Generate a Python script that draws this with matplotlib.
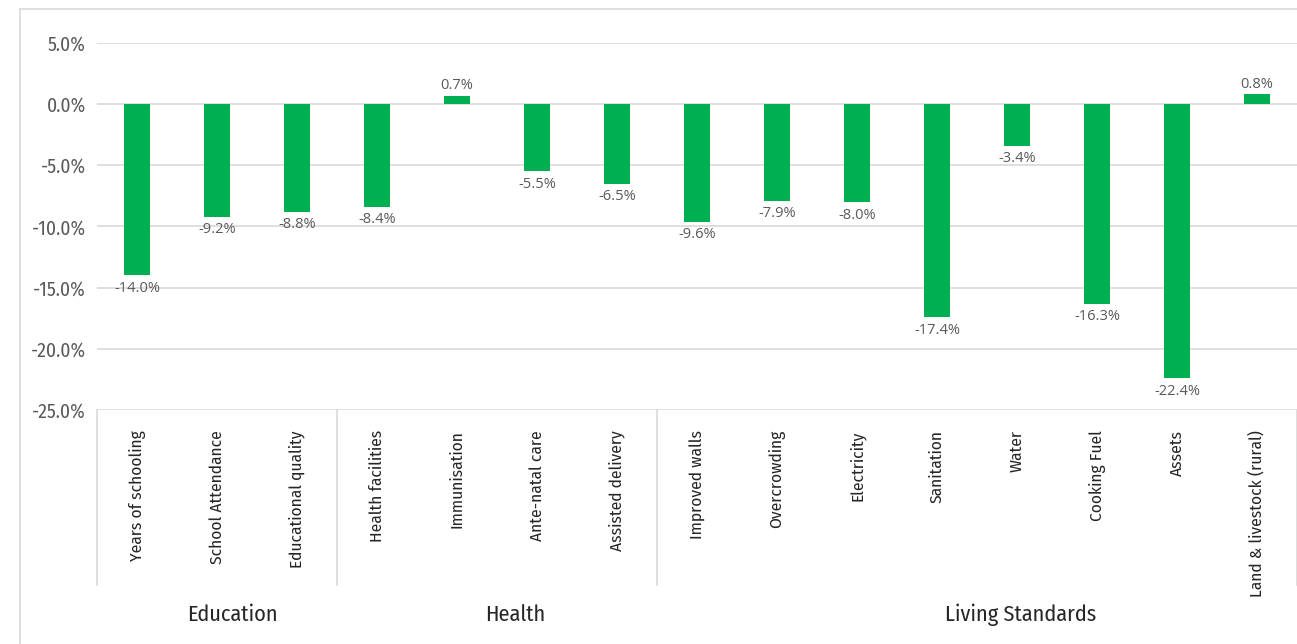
import numpy as np
import matplotlib
matplotlib.use("Agg")
import matplotlib.pyplot as plt
from matplotlib.lines import Line2D

categories = ["Years of schooling", "School Attendance", "Educational quality",
              "Health facilities", "Immunisation", "Ante-natal care", "Assisted delivery",
              "Improved walls", "Overcrowding", "Electricity", "Sanitation", "Water",
              "Cooking Fuel", "Assets", "Land & livestock (rural)"]
values = [-14.0, -9.2, -8.8, -8.4, 0.7, -5.5, -6.5, -9.6, -7.9, -8.0, -17.4, -3.4, -16.3, -22.4, 0.8]
groups = ["Education", "Health", "Living Standards"]
group_sizes = [3, 4, 8]
yticks = [5, 0, -5, -10, -15, -20, -25]

narrow = ["Fira Sans Condensed", "DejaVu Sans"]
label_font = ["Open Sans", "DejaVu Sans"]
green = "#00B050"
grid_c = "#D9D9D9"

W, H = 1297, 644
fig = plt.figure(figsize=(W / 100, H / 100), dpi=100)

# outer chart frame (left and top edges visible)
fig.add_artist(Line2D([20 / W, 20 / W], [0, 1 - 9 / H], color=grid_c, lw=1.2))
fig.add_artist(Line2D([20 / W, 1], [1 - 9 / H, 1 - 9 / H], color=grid_c, lw=1.2))

left, right = 97 / W, 1.0
top, bottom = 1 - 43 / H, 1 - 410 / H
ax = fig.add_axes([left, bottom, right - left, top - bottom])

x = np.arange(len(categories))
ax.bar(x, values, width=0.33, color=green, zorder=3)

for xi, v in zip(x, values):
    if v >= 0:
        ax.annotate(f"{v:.1f}%", (xi, v), xytext=(0, 2), textcoords="offset points",
                    ha="center", va="bottom", fontsize=10.5, color="#595959", family=label_font)
    else:
        ax.annotate(f"{v:.1f}%", (xi, v), xytext=(0, -4), textcoords="offset points",
                    ha="center", va="top", fontsize=10.5, color="#595959", family=label_font)

ax.set_xlim(-0.5, len(categories) - 0.5)
ax.set_ylim(-25, 5)
ax.set_yticks(yticks)
ax.set_yticklabels([f"{t:.1f}%" for t in yticks], family=narrow,
                   fontsize=14, color="#595959")
ax.yaxis.grid(True, color=grid_c, lw=1.2, zorder=0)
ax.tick_params(axis="y", length=0, pad=8)
ax.set_xticks([])
for s in ax.spines.values():
    s.set_visible(False)

# category labels and group separators below the plot
trans = ax.get_xaxis_transform()
for xi, name in zip(x, categories):
    ax.text(xi, -0.055, name, transform=trans, rotation=90, ha="center", va="top",
            family=narrow, fontsize=12.5, color="#262626")

sep_bottom = -(585 - 410) / (410 - 43)
bounds = np.concatenate([[0], np.cumsum(group_sizes)]) - 0.5
for b in bounds:
    ax.add_artist(Line2D([b, b], [0, sep_bottom], transform=trans, color=grid_c,
                         lw=1.2, clip_on=False))

group_x = [1.19, 4.73, 11.05]
for gx, g in zip(group_x, groups):
    ax.text(gx, -(615 - 410) / (410 - 43), g, transform=trans, ha="center", va="center",
            family=narrow, fontsize=16, color="#262626")

fig.savefig("out.png", dpi=100)
